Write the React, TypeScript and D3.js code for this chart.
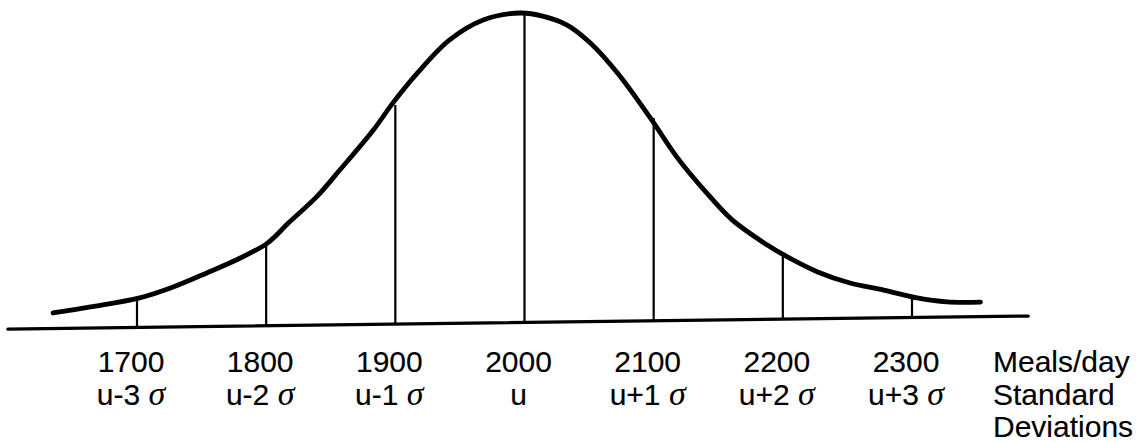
import { useEffect, useRef } from "react";
import * as d3 from "d3";

// curve: meals/day vs height (% of peak)
const curveMeals = [1635, 1664, 1702, 1728, 1754, 1780, 1801, 1818, 1839, 1857, 1883, 1898, 1917, 1942, 1968, 1997, 2014, 2033, 2051, 2072, 2097, 2118, 2141, 2161, 2188, 2198, 2227, 2252, 2278, 2304, 2327, 2353];
const curveHeight = [5.0, 6.8, 9.5, 12.9, 17.3, 22.0, 26.7, 33.4, 41.4, 50.0, 62.8, 71.4, 81.0, 91.6, 97.9, 100, 98.9, 95.9, 90.0, 80.2, 65.8, 52.8, 41.1, 32.2, 24.0, 21.4, 15.1, 11.4, 9.0, 6.3, 4.9, 4.7];

// vertical markers at each standard deviation
const sdMeals = [1700, 1800, 1900, 2000, 2100, 2200, 2300];
const sdHeight = [9.1, 26.1, 70.8, 100, 65.5, 21.4, 6.6];
const sdLabels = ["u-3", "u-2", "u-1", "u", "u+1", "u+2", "u+3"];
const sdHasSigma = [true, true, true, false, true, true, true];

const axisRange = [1600, 2390];
const sideLabels = ["Meals/day", "Standard", "Deviations"];

export default function App() {
    const svgRef = useRef<SVGSVGElement>(null);

    useEffect(() => {
        if (!svgRef.current) return;
        const svg = d3.select(svgRef.current);
        svg.selectAll("*").remove();

        const width = 1144;
        const baseY = 322.5;
        const pivotX = 521;
        const tilt = -0.01272; // the scanned baseline leans a little

        const x = d3.scaleLinear().domain([1700, 2300]).range([137, 912]);
        const y = d3.scaleLinear().domain([0, 100]).range([baseY, 13]);

        svg.append("rect").attr("width", width).attr("height", 442).style("fill", "#fff");

        const g = svg.append("g")
            .attr("transform", `matrix(1, ${tilt}, 0, 1, 0, ${-tilt * pivotX})`);

        // baseline
        g.append("line")
            .attr("x1", x(axisRange[0]))
            .attr("x2", x(axisRange[1]))
            .attr("y1", y(0))
            .attr("y2", y(0))
            .style("stroke", "#000")
            .style("stroke-width", 3.2)
            .style("stroke-linecap", "round");

        // sigma lines
        g.selectAll(".sd-line")
            .data(sdMeals)
            .enter()
            .append("line")
            .attr("class", "sd-line")
            .attr("x1", d => x(d))
            .attr("x2", d => x(d))
            .attr("y1", y(0))
            .attr("y2", (_, i) => y(sdHeight[i]))
            .style("stroke", "#000")
            .style("stroke-width", 2.2);

        // the bell curve
        const line = d3.line<number>()
            .x(d => x(d))
            .y((_, i) => y(curveHeight[i]))
            .curve(d3.curveCatmullRom.alpha(0.5));

        g.append("path")
            .attr("d", line(curveMeals))
            .style("fill", "none")
            .style("stroke", "#000")
            .style("stroke-width", 4.8)
            .style("stroke-linecap", "round")
            .style("stroke-linejoin", "round");

        // labels under the axis
        const fontSize = 30;
        const labelShift = -6;
        const textStyle = (sel: any) => sel
            .style("font-family", "'Liberation Sans', Arial, sans-serif")
            .style("font-size", `${fontSize}px`)
            .style("fill", "#000")
            .style("stroke", "#000")
            .style("stroke-width", 0.15);

        svg.selectAll(".meal-label")
            .data(sdMeals)
            .enter()
            .append("text")
            .attr("class", "meal-label")
            .attr("x", d => x(d) + labelShift)
            .attr("y", 372)
            .attr("text-anchor", "middle")
            .call(textStyle)
            .text(d => d);

        const sd = svg.selectAll(".sd-label")
            .data(sdMeals)
            .enter()
            .append("text")
            .attr("class", "sd-label")
            .attr("x", d => x(d) + labelShift)
            .attr("y", 404.5)
            .attr("text-anchor", "middle")
            .call(textStyle);

        sd.append("tspan").text((_, i) => sdLabels[i]);
        sd.filter((_, i) => sdHasSigma[i])
            .append("tspan")
            .text(" ");
        sd.filter((_, i) => sdHasSigma[i])
            .append("tspan")
            .style("font-family", "'Liberation Serif', 'Times New Roman', serif")
            .style("font-style", "italic")
            .style("font-size", "34px")
            .style("stroke-width", 0)
            .text("σ");

        svg.selectAll(".side-label")
            .data(sideLabels)
            .enter()
            .append("text")
            .attr("class", "side-label")
            .attr("x", 993)
            .attr("y", (_, i) => 372 + i * 32.5)
            .call(textStyle)
            .text(d => d);
    }, []);

    return (
        <svg
            ref={svgRef}
            width={1144}
            height={442}
            style={{ position: "absolute", left: 0, top: 0, display: "block" }}
        />
    );
}
